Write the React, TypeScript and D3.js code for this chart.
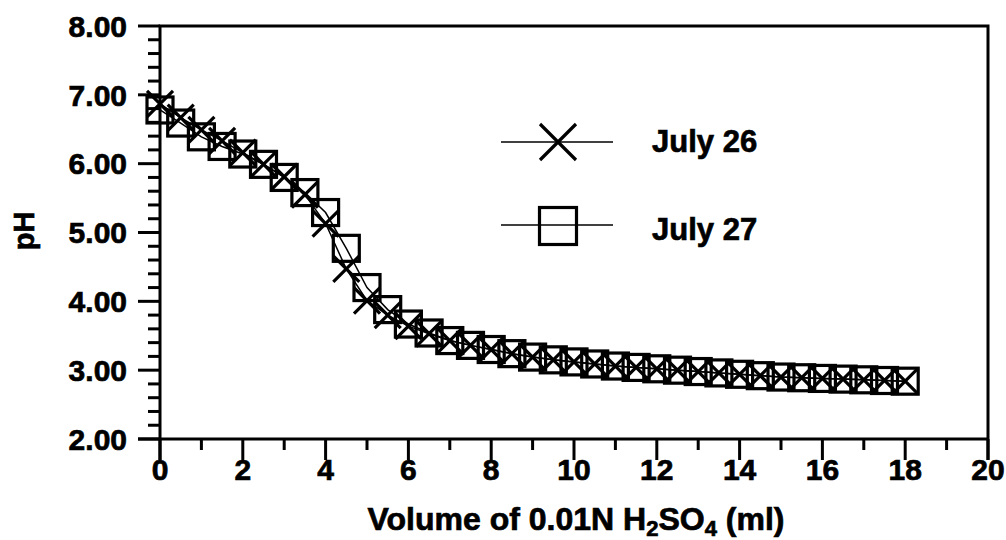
import React from "react";
import * as d3 from "d3";

const volumes = [0, 0.5, 1, 1.5, 2, 2.5, 3, 3.5, 4, 4.5, 5, 5.5, 6, 6.5, 7, 7.5, 8, 8.5, 9, 9.5, 10, 10.5, 11, 11.5, 12, 12.5, 13, 13.5, 14, 14.5, 15, 15.5, 16, 16.5, 17, 17.5, 18];
const july26 = [6.87, 6.67, 6.49, 6.33, 6.16, 5.99, 5.81, 5.55, 5.13, 4.47, 4.01, 3.8, 3.64, 3.53, 3.43, 3.36, 3.3, 3.24, 3.19, 3.15, 3.12, 3.09, 3.06, 3.04, 3.02, 3.0, 2.98, 2.96, 2.94, 2.92, 2.9, 2.89, 2.88, 2.87, 2.86, 2.85, 2.84];
const july27 = [6.78, 6.59, 6.39, 6.25, 6.14, 5.99, 5.8, 5.58, 5.29, 4.77, 4.2, 3.88, 3.67, 3.54, 3.43, 3.36, 3.3, 3.24, 3.19, 3.15, 3.12, 3.09, 3.06, 3.04, 3.02, 3.0, 2.98, 2.96, 2.94, 2.92, 2.9, 2.89, 2.88, 2.87, 2.86, 2.85, 2.84];
const xTicks = [0, 2, 4, 6, 8, 10, 12, 14, 16, 18, 20];
const xMinorTicks = [1, 3, 5, 7, 9, 11, 13, 15, 17, 19];
const yTicks = [2, 3, 4, 5, 6, 7, 8];
const yTickLabels = ["2.00", "3.00", "4.00", "5.00", "6.00", "7.00", "8.00"];
const seriesNames = ["July 26", "July 27"];

const FONT = "'Liberation Sans', Arial, Helvetica, sans-serif";

export default function App() {
  const L = 160, R = 988, T = 26, B = 439;
  const x = d3.scaleLinear().domain([0, 20]).range([L, R]);
  const y = d3.scaleLinear().domain([2, 8]).range([B, T]);
  const yMinor = d3.range(2, 8.001, 0.2).filter((v) => Math.abs(v - Math.round(v)) > 0.01);

  const line = d3
    .line<number>()
    .x((_, i) => x(volumes[i]))
    .y((d) => y(d));

  const sw = 3.2;
  const xs = 13;
  const sq = 26;
  const txt = { fontWeight: "bold" as const, stroke: "#000", strokeWidth: 0.7 };

  const XMark = ({ cx, cy, s }: { cx: number; cy: number; s: number }) => (
    <path d={`M${cx - s},${cy - s}L${cx + s},${cy + s}M${cx - s},${cy + s}L${cx + s},${cy - s}`} stroke="#000" strokeWidth={sw} fill="none" />
  );
  const SqMark = ({ cx, cy, s }: { cx: number; cy: number; s: number }) => (
    <rect x={cx - s / 2} y={cy - s / 2} width={s} height={s} stroke="#000" strokeWidth={sw} fill="none" />
  );

  return (
    <svg width={1006} height={540} style={{ position: "absolute", left: 0, top: 0, background: "#fff" }} fontFamily={FONT}>
      <rect x={0} y={0} width={1006} height={540} fill="#fff" />
      {/* frame */}
      <path d={`M${L},${B + 21}L${L},${T}L${R},${T}L${R},${B + 21}`} fill="none" stroke="#000" strokeWidth={3} />
      <line x1={L - 22} x2={R} y1={B} y2={B} stroke="#000" strokeWidth={3} />
      {/* y ticks */}
      {yTicks.map((t, i) => (
        <g key={"yt" + t}>
          <line x1={L - 22} x2={L} y1={y(t)} y2={y(t)} stroke="#000" strokeWidth={3} />
          <text x={127} y={y(t)} dy="0.36em" textAnchor="end" fontSize={30} {...txt}>
            {yTickLabels[i]}
          </text>
        </g>
      ))}
      {yMinor.map((t) => (
        <line key={"ym" + t} x1={L - 12} x2={L} y1={y(t)} y2={y(t)} stroke="#000" strokeWidth={3} />
      ))}
      {/* x ticks */}
      {xTicks.map((t) => (
        <g key={"xt" + t}>
          <line x1={x(t)} x2={x(t)} y1={B} y2={B + 21} stroke="#000" strokeWidth={3} />
          <text x={x(t)} y={480} textAnchor="middle" fontSize={30} {...txt}>
            {t}
          </text>
        </g>
      ))}
      {xMinorTicks.map((t) => (
        <line key={"xm" + t} x1={x(t)} x2={x(t)} y1={B} y2={B + 11} stroke="#000" strokeWidth={3} />
      ))}
      {/* axis titles */}
      <text x={576} y={530} textAnchor="middle" fontSize={32} {...txt}>
        Volume of 0.01N H<tspan fontSize={22} dy={6}>2</tspan>
        <tspan dy={-6}>SO</tspan>
        <tspan fontSize={22} dy={6}>4</tspan>
        <tspan dy={-6}> (ml)</tspan>
      </text>
      <text transform={`translate(34,231) rotate(-90)`} textAnchor="middle" fontSize={29} {...txt}>
        pH
      </text>
      {/* series lines */}
      <path d={line(july26) || ""} fill="none" stroke="#000" strokeWidth={1.5} />
      <path d={line(july27) || ""} fill="none" stroke="#000" strokeWidth={1.5} />
      {/* markers */}
      {july27.map((v, i) => (
        <SqMark key={"s" + i} cx={x(volumes[i])} cy={y(v)} s={sq} />
      ))}
      {july26.map((v, i) => (
        <XMark key={"x" + i} cx={x(volumes[i])} cy={y(v)} s={xs} />
      ))}
      {/* legend */}
      <line x1={501} x2={613} y1={142} y2={142} stroke="#000" strokeWidth={1.5} />
      <XMark cx={558} cy={142} s={18} />
      <text x={652} y={152} fontSize={31} {...txt}>{seriesNames[0]}</text>
      <line x1={501} x2={613} y1={225} y2={225} stroke="#000" strokeWidth={1.5} />
      <SqMark cx={558} cy={226} s={37} />
      <text x={652} y={240} fontSize={31} {...txt}>{seriesNames[1]}</text>
    </svg>
  );
}
